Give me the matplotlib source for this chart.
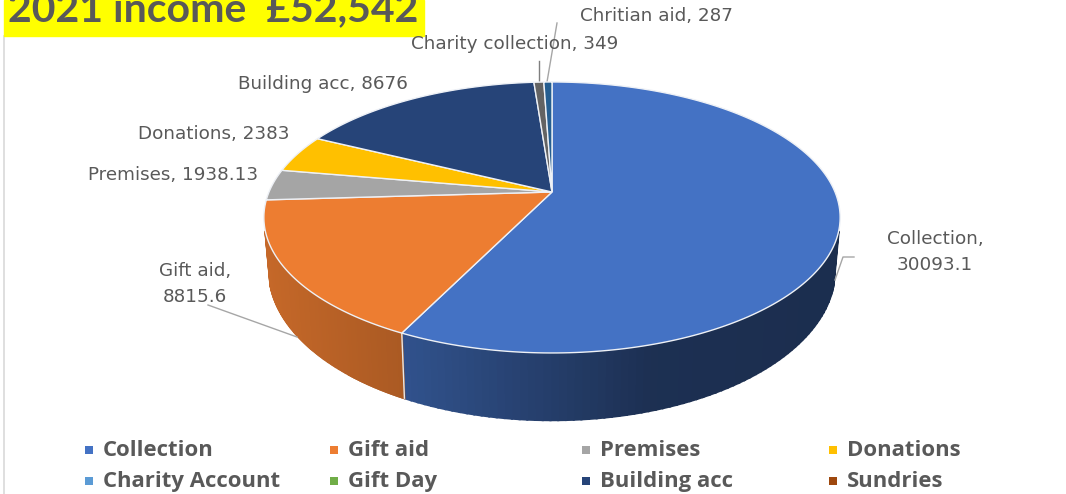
import numpy as np
import matplotlib
matplotlib.use('Agg')
import matplotlib.pyplot as plt
from matplotlib.colors import to_rgb

categories = ['Collection', 'Gift aid', 'Premises', 'Donations', 'Charity Account',
              'Gift Day', 'Building acc', 'Sundries', 'Charity collection', 'Chritian aid']
values = [30093.1, 8815.6, 1938.13, 2383, 0, 0, 8676, 0, 349, 287]
colors = ['#4472C4', '#ED7D31', '#A5A5A5', '#FFC000', '#5B9BD5',
          '#70AD47', '#264478', '#9E480E', '#636363', '#255E91']
legend_names = categories[:8]

plt.rcParams['font.family'] = ['Lato', 'DejaVu Sans']
TEXT = '#595959'
LEAD = '#a6a6a6'

# perspective disc, centre of the pie is not the centre of the ellipse
CX, K = 552, 0.188
TOP = (192, 283, 130.7)
BASE = (242, 278, 144.7)


def project(t, disc=TOP):
    py, sx, sy = disc
    u, v = np.sin(t), np.cos(t)
    d = 1 + K * v
    return CX + sx * u / d, py - sy * v / d


def wall_shade(x):
    return np.interp(x, [265, 400, 650, 840], [.83, .72, .42, .40])


fig = plt.figure(figsize=(10.66, 4.94), dpi=100)
ax = fig.add_axes([0, 0, 1, 1])
ax.set_xlim(0, 1066)
ax.set_ylim(494, 0)
ax.axis('off')

fracs = np.cumsum([0] + values) / sum(values)
edges = fracs * 2 * np.pi

# side walls first, top face goes over them. back of the wall is skipped
for i, c in enumerate(colors):
    if values[i] == 0:
        continue
    ts = np.linspace(edges[i], edges[i + 1], 160)
    ts = ts[np.cos(ts) < -0.28]
    if len(ts) < 2:
        continue
    base = np.array(to_rgb(c))
    for t0, t1 in zip(ts[:-1], ts[1:]):
        xt, yt = project(np.array([t0, t1]))
        xb, yb = project(np.array([t1, t0]), BASE)
        col = tuple(base * wall_shade(xt.mean()))
        ax.fill(np.r_[xt, xb], np.r_[yt, yb], facecolor=col, edgecolor=col, lw=1.5, zorder=2)

# white seam where collection meets gift aid on the wall
xs, ys = project(edges[1])
xe, ye = project(edges[1], BASE)
ax.plot([xs, xe], [ys, ye], color='#e8e8e8', lw=1, zorder=3)

for i, c in enumerate(colors):
    if values[i] == 0:
        continue
    ts = np.linspace(edges[i], edges[i + 1], 200)
    x, y = project(ts)
    ax.fill(np.r_[CX, x], np.r_[TOP[0], y], facecolor=c, edgecolor='#eef1f6', lw=1, zorder=4)

# frame line and title block
ax.plot([3.5, 3.5], [36, 494], color='#d9d9d9', lw=1.2, zorder=1)
ax.fill([4, 424, 424, 4], [0, 0, 36, 36], color='#FFFF00', zorder=5)
ax.text(8, 21.5, '2021 income  £52,542', fontsize=29.5, fontweight='bold', color=TEXT,
        ha='left', va='baseline', zorder=6)

# data labels
lab = dict(color=TEXT, fontsize=13.2, family=['DejaVu Sans'], zorder=6)
ax.text(733, 16, 'Chritian aid, 287', ha='right', va='center', **lab)
ax.text(618, 44, 'Charity collection, 349', ha='right', va='center', **lab)
ax.text(408, 84, 'Building acc, 8676', ha='right', va='center', **lab)
ax.text(290, 134, 'Donations, 2383', ha='right', va='center', **lab)
ax.text(258, 175, 'Premises, 1938.13', ha='right', va='center', **lab)
ax.text(195, 284, 'Gift aid,\n8815.6', ha='center', va='center', linespacing=1.6, **lab)
ax.text(935, 252, 'Collection,\n30093.1', ha='center', va='center', linespacing=1.6, **lab)

# leader lines
ax.plot([547, 557], [82, 23], color=LEAD, lw=1, zorder=3)
ax.plot([539, 539], [82, 61], color='#7f7f7f', lw=1, zorder=3)
ax.plot([208, 297], [305, 337], color=LEAD, lw=1, zorder=3)
ax.plot([835, 843, 854], [280, 257, 257], color=LEAD, lw=1, zorder=3)

# legend, two rows of four
col_x = [85, 330, 582, 829]
row_y = [450, 481]
for i, name in enumerate(legend_names):
    mx = col_x[i % 4]
    my = row_y[i // 4]
    ax.plot([mx + 4], [my], marker='s', ms=6.2, color=colors[i], mew=0, zorder=6)
    ax.text(mx + 18, my, name, color=TEXT, fontsize=15.9, fontweight='bold',
            family=['Open Sans', 'DejaVu Sans'], ha='left', va='center', zorder=6)

fig.savefig('out.png', dpi=100)
